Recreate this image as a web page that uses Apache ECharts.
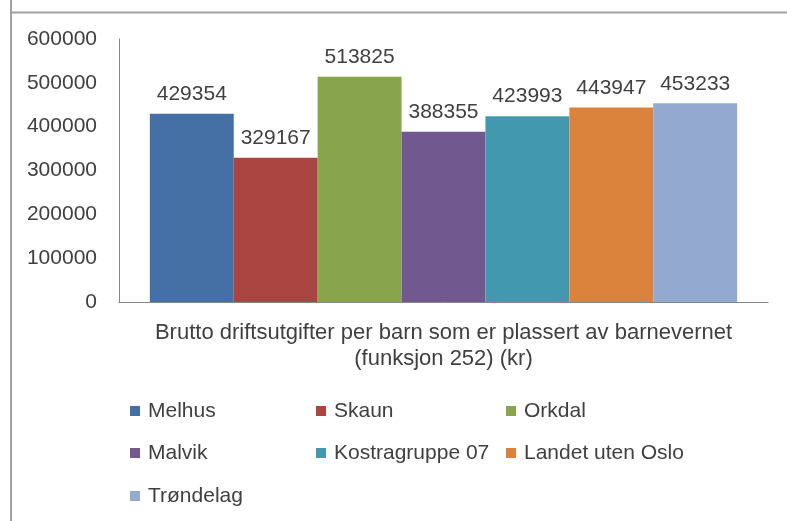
<!DOCTYPE html>
<html>
<head>
<meta charset="utf-8">
<script src="https://cdn.jsdelivr.net/npm/echarts@6/dist/echarts.min.js"></script>
<style>
  html, body { margin: 0; padding: 0; background: #fff; }
  #chart { width: 787px; height: 521px; }
</style>
</head>
<body>
<div id="chart"></div>
<script>
// Net operating expenditure per child placed by the child welfare service
const category = 'Brutto driftsutgifter per barn som er plassert av barnevernet\n(funksjon 252) (kr)';
const regions = ['Melhus', 'Skaun', 'Orkdal', 'Malvik', 'Kostragruppe 07', 'Landet uten Oslo', 'Trøndelag'];
const values = [429354, 329167, 513825, 388355, 423993, 443947, 453233];
const colors = ['#4470A6', '#AA4542', '#88A44D', '#71588F', '#4298AF', '#DB823D', '#93A9CF'];
const yTicks = [0, 100000, 200000, 300000, 400000, 500000, 600000];

const FONT = 'Liberation Sans';
const FS = 21;
const TEXT = '#404040';

// Legend laid out as a 3-column grid, one legend component per entry
const legendCols = [130, 316, 506];
const legendRows = [399, 441, 484];
const legends = regions.map((name, i) => ({
  data: [name],
  left: legendCols[i % 3],
  top: legendRows[Math.floor(i / 3)],
  icon: 'rect',
  itemWidth: 10,
  itemHeight: 10,
  itemGap: 0,
  padding: 0,
  textStyle: { fontFamily: FONT, fontSize: FS, lineHeight: 24, color: TEXT, padding: [0, 0, 0, 3] },
  selectedMode: false
}));

const chart = echarts.init(document.getElementById('chart'), null, { renderer: 'canvas' });
chart.setOption({
  animation: false,
  backgroundColor: '#fff',
  textStyle: { fontFamily: FONT },
  graphic: [
    { type: 'line', shape: { x1: 11, y1: 0, x2: 11, y2: 521 }, style: { stroke: '#a0a0a0', lineWidth: 2 } },
    { type: 'line', shape: { x1: 10, y1: 12.5, x2: 787, y2: 12.5 }, style: { stroke: '#a0a0a0', lineWidth: 2 } }
  ],
  legend: legends,
  grid: { left: 119, right: 19, top: 39, bottom: 219, containLabel: false },
  xAxis: {
    type: 'category',
    data: [category],
    axisLine: { lineStyle: { color: '#868686', width: 1 } },
    axisTick: { show: false },
    axisLabel: {
      fontFamily: FONT, fontSize: 22, color: TEXT, margin: 18, lineHeight: 26
    }
  },
  yAxis: {
    type: 'value',
    min: 0,
    max: 600000,
    interval: 100000,
    axisLine: { show: true, lineStyle: { color: '#868686', width: 1 } },
    axisTick: { show: false },
    splitLine: { show: false },
    axisLabel: {
      fontFamily: FONT, fontSize: FS, color: TEXT, margin: 22,
      formatter: v => yTicks.includes(v) ? String(v) : ''
    }
  },
  series: regions.map((name, i) => ({
    name,
    type: 'bar',
    data: [values[i]],
    barGap: '0%',
    barCategoryGap: '9.5%',
    itemStyle: { color: colors[i] },
    label: {
      show: true, position: 'top', distance: 9,
      fontFamily: FONT, fontSize: FS, color: TEXT
    }
  }))
});
</script>
</body>
</html>
